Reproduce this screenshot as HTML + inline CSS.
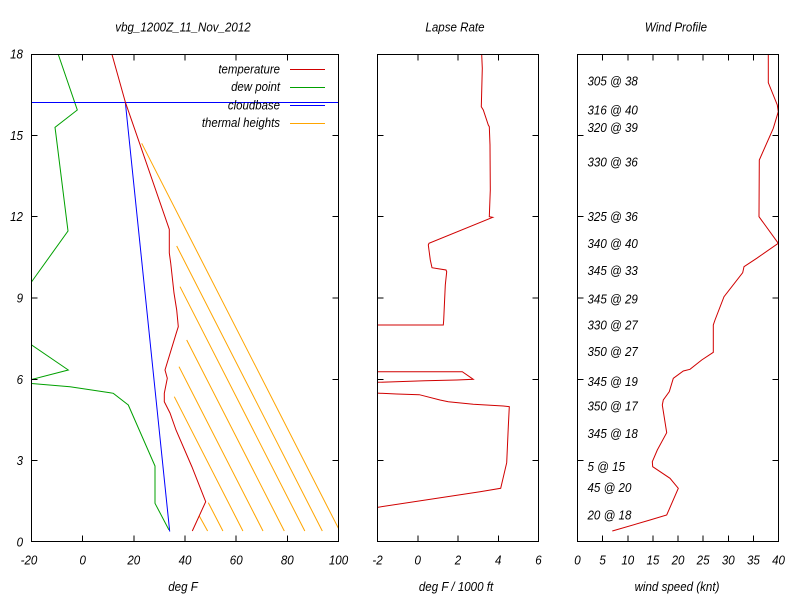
<!DOCTYPE html>
<html><head><meta charset="utf-8"><style>
html,body{margin:0;padding:0;background:#fff;}
svg{display:block;}
text{font-family:"Liberation Sans",Arial,sans-serif;font-style:italic;font-size:13px;fill:#000;}
</style></head><body>
<svg width="800" height="600" viewBox="0 0 800 600" xmlns="http://www.w3.org/2000/svg">
<defs>
<clipPath id="cl"><rect x="31.5" y="54.5" width="307" height="487"/></clipPath>
<clipPath id="cm"><rect x="377.5" y="54.5" width="161" height="487"/></clipPath>
<clipPath id="cr"><rect x="577.5" y="54.5" width="201" height="487"/></clipPath>
</defs>
<rect width="800" height="600" fill="#fff"/>

<!-- titles -->
<text transform="translate(183,31.5) scale(0.89,1)" text-anchor="middle">vbg_1200Z_11_Nov_2012</text>
<text transform="translate(455,31.5) scale(0.89,1)" text-anchor="middle">Lapse Rate</text>
<text transform="translate(676,31.5) scale(0.89,1)" text-anchor="middle">Wind Profile</text>

<!-- LEFT PANEL data -->
<g clip-path="url(#cl)" fill="none" stroke-width="1">
<g stroke="#ffa500">
<line x1="141.7" y1="143.3" x2="339.8" y2="531"/>
<line x1="176.7" y1="246" x2="322.3" y2="531"/>
<line x1="180" y1="286.7" x2="304.8" y2="531"/>
<line x1="186.7" y1="340" x2="284.3" y2="531"/>
<line x1="179" y1="366.7" x2="263" y2="531"/>
<line x1="174.3" y1="396.7" x2="242.9" y2="531"/>
<line x1="208.3" y1="502.7" x2="222.9" y2="531"/>
<line x1="199.3" y1="516" x2="207.6" y2="531"/>
</g>
<polyline stroke="#00a000" points="58.3,54.5 77.3,110 55,127.3 56,135 68,231 20,298 20,337 31.7,345 68.3,370 20,382.5 70,386.7 110,392.7 113.3,393.3 128.3,405 155,466 155,503.3 169,530"/>
<polyline stroke="#0000ff" points="169.7,531.5 125.3,102"/>
<line stroke="#0000ff" x1="31.5" y1="102.5" x2="338.5" y2="102.5"/>
<polyline stroke="#d00000" points="112,54.5 125.3,102 169.3,229.3 169.3,253 170.7,263 174,293 176.7,310 178.3,326.7 176.7,331.7 165,370 167.3,378.3 164.3,393.3 164.3,401.7 170,413 176,430 192,467 205.7,501.7 192.3,531"/>
</g>

<!-- legend -->
<text transform="translate(280,73.5) scale(0.88,1)" text-anchor="end">temperature</text>
<text transform="translate(280,91.2) scale(0.88,1)" text-anchor="end">dew point</text>
<text transform="translate(280,109.5) scale(0.88,1)" text-anchor="end">cloudbase</text>
<text transform="translate(280,127.2) scale(0.88,1)" text-anchor="end">thermal heights</text>
<line x1="290" y1="69.5" x2="325" y2="69.5" stroke="#d00000"/>
<line x1="290" y1="87.5" x2="325" y2="87.5" stroke="#00a000"/>
<line x1="290" y1="105.5" x2="325" y2="105.5" stroke="#0000ff"/>
<line x1="290" y1="123.5" x2="325" y2="123.5" stroke="#ffa500"/>
<line stroke="#0000ff" x1="280" y1="102.5" x2="338.5" y2="102.5"/>

<!-- LEFT PANEL frame and ticks -->
<g stroke="#000" stroke-width="1" shape-rendering="crispEdges" fill="none">
<rect x="31.5" y="54.5" width="307" height="487"/>
<path d="M31.5,460.7h6M31.5,379.3h6M31.5,298h6M31.5,216.7h6M31.5,135.3h6
M338.5,460.7h-6M338.5,379.3h-6M338.5,298h-6M338.5,216.7h-6M338.5,135.3h-6
M82.7,541.5v-6M133.8,541.5v-6M185,541.5v-6M236.2,541.5v-6M287.3,541.5v-6
M82.7,54.5v6M133.8,54.5v6M185,54.5v6M236.2,54.5v6M287.3,54.5v6"/>
</g>
<g text-anchor="end">
<text transform="translate(23,546.5) scale(0.89,1)">0</text>
<text transform="translate(23,465.2) scale(0.89,1)">3</text>
<text transform="translate(23,383.8) scale(0.89,1)">6</text>
<text transform="translate(23,302.5) scale(0.89,1)">9</text>
<text transform="translate(23,221.2) scale(0.89,1)">12</text>
<text transform="translate(23,139.8) scale(0.89,1)">15</text>
<text transform="translate(23,58.5) scale(0.89,1)">18</text>
</g>
<g text-anchor="middle">
<text transform="translate(29,564.5) scale(0.89,1)">-20</text>
<text transform="translate(82.7,564.5) scale(0.89,1)">0</text>
<text transform="translate(133.8,564.5) scale(0.89,1)">20</text>
<text transform="translate(185,564.5) scale(0.89,1)">40</text>
<text transform="translate(236.2,564.5) scale(0.89,1)">60</text>
<text transform="translate(287.3,564.5) scale(0.89,1)">80</text>
<text transform="translate(338.5,564.5) scale(0.89,1)">100</text>
<text transform="translate(183,591) scale(0.89,1)">deg F</text>
</g>

<!-- MIDDLE PANEL -->
<g clip-path="url(#cm)" fill="none" stroke="#d00000" stroke-width="1">
<polyline points="481.7,54.5 482.3,68.3 481.3,106.7 483.3,110 488.3,125 489.3,126.7 490,145 490.3,190 489.3,216.7 492.7,217.3 429,243.3 428.3,245 430.3,260 432,267.7 438.3,268.7 446,270 446.7,271.7 445.3,285 444.3,306.7 443.7,320 443.3,325 360,325 360,371.7 462.3,371.7 473.3,379.3 456.7,380 425,380.7 360,382.9 360,392.3 396.7,394 419.3,394.7 440,400 448.3,401.7 473.3,404.3 503.3,406 509.3,406.7 508.3,426.7 506.7,462.7 500.7,488.3 480,491.7 360,510"/>
</g>
<g stroke="#000" stroke-width="1" shape-rendering="crispEdges" fill="none">
<rect x="377.5" y="54.5" width="161" height="487"/>
<path d="M377.5,460.7h6M377.5,379.3h6M377.5,298h6M377.5,216.7h6M377.5,135.3h6
M538.5,460.7h-6M538.5,379.3h-6M538.5,298h-6M538.5,216.7h-6M538.5,135.3h-6
M417.75,541.5v-6M458,541.5v-6M498.25,541.5v-6
M417.75,54.5v6M458,54.5v6M498.25,54.5v6"/>
</g>
<g text-anchor="middle">
<text transform="translate(377.5,564.5) scale(0.89,1)">-2</text>
<text transform="translate(417.75,564.5) scale(0.89,1)">0</text>
<text transform="translate(458,564.5) scale(0.89,1)">2</text>
<text transform="translate(498.25,564.5) scale(0.89,1)">4</text>
<text transform="translate(538.5,564.5) scale(0.89,1)">6</text>
<text transform="translate(456,591) scale(0.89,1)">deg F / 1000 ft</text>
</g>

<!-- RIGHT PANEL -->
<g clip-path="url(#cr)" fill="none" stroke="#d00000" stroke-width="1">
<polyline points="768.3,54.5 768.3,82.7 777.3,105 778.3,111.7 773.3,128.3 759.3,160 759,216.7 778.3,243.3 756.7,258.3 744,266.7 742.7,272.7 724,296.7 715,320 713.3,325 713.3,352.3 701.7,360 690,369.3 683.3,371 673.3,378.3 669.3,391.7 663.3,400 662.3,405 666.7,432.7 657.3,450 652.3,461.7 652.7,466.7 670,478.3 678.3,488.3 666.7,515 650,520 612.3,531"/>
</g>
<g stroke="#000" stroke-width="1" shape-rendering="crispEdges" fill="none">
<rect x="577.5" y="54.5" width="201" height="487"/>
<path d="M577.5,460.7h6M577.5,379.3h6M577.5,298h6M577.5,216.7h6M577.5,135.3h6
M778.5,460.7h-6M778.5,379.3h-6M778.5,298h-6M778.5,216.7h-6M778.5,135.3h-6
M602.6,541.5v-6M627.75,541.5v-6M652.9,541.5v-6M678,541.5v-6M703.1,541.5v-6M728.25,541.5v-6M753.4,541.5v-6
M602.6,54.5v6M627.75,54.5v6M652.9,54.5v6M678,54.5v6M703.1,54.5v6M728.25,54.5v6M753.4,54.5v6"/>
</g>
<g text-anchor="start">
<text transform="translate(587.5,85.5) scale(0.89,1)">305 @ 38</text>
<text transform="translate(587.5,114.5) scale(0.89,1)">316 @ 40</text>
<text transform="translate(587.5,131.8) scale(0.89,1)">320 @ 39</text>
<text transform="translate(587.5,166.5) scale(0.89,1)">330 @ 36</text>
<text transform="translate(587.5,221.2) scale(0.89,1)">325 @ 36</text>
<text transform="translate(587.5,247.8) scale(0.89,1)">340 @ 40</text>
<text transform="translate(587.5,275.2) scale(0.89,1)">345 @ 33</text>
<text transform="translate(587.5,303.5) scale(0.89,1)">345 @ 29</text>
<text transform="translate(587.5,329.5) scale(0.89,1)">330 @ 27</text>
<text transform="translate(587.5,355.8) scale(0.89,1)">350 @ 27</text>
<text transform="translate(587.5,386.2) scale(0.89,1)">345 @ 19</text>
<text transform="translate(587.5,410.5) scale(0.89,1)">350 @ 17</text>
<text transform="translate(587.5,437.8) scale(0.89,1)">345 @ 18</text>
<text transform="translate(587.5,471.2) scale(0.89,1)">5 @ 15</text>
<text transform="translate(587.5,492.2) scale(0.89,1)">45 @ 20</text>
<text transform="translate(587.5,519.5) scale(0.89,1)">20 @ 18</text>
</g>
<g text-anchor="middle">
<text transform="translate(577.5,564.5) scale(0.89,1)">0</text>
<text transform="translate(602.6,564.5) scale(0.89,1)">5</text>
<text transform="translate(627.75,564.5) scale(0.89,1)">10</text>
<text transform="translate(652.9,564.5) scale(0.89,1)">15</text>
<text transform="translate(678,564.5) scale(0.89,1)">20</text>
<text transform="translate(703.1,564.5) scale(0.89,1)">25</text>
<text transform="translate(728.25,564.5) scale(0.89,1)">30</text>
<text transform="translate(753.4,564.5) scale(0.89,1)">35</text>
<text transform="translate(778.5,564.5) scale(0.89,1)">40</text>
<text transform="translate(677,591) scale(0.89,1)">wind speed (knt)</text>
</g>
</svg>
</body></html>
